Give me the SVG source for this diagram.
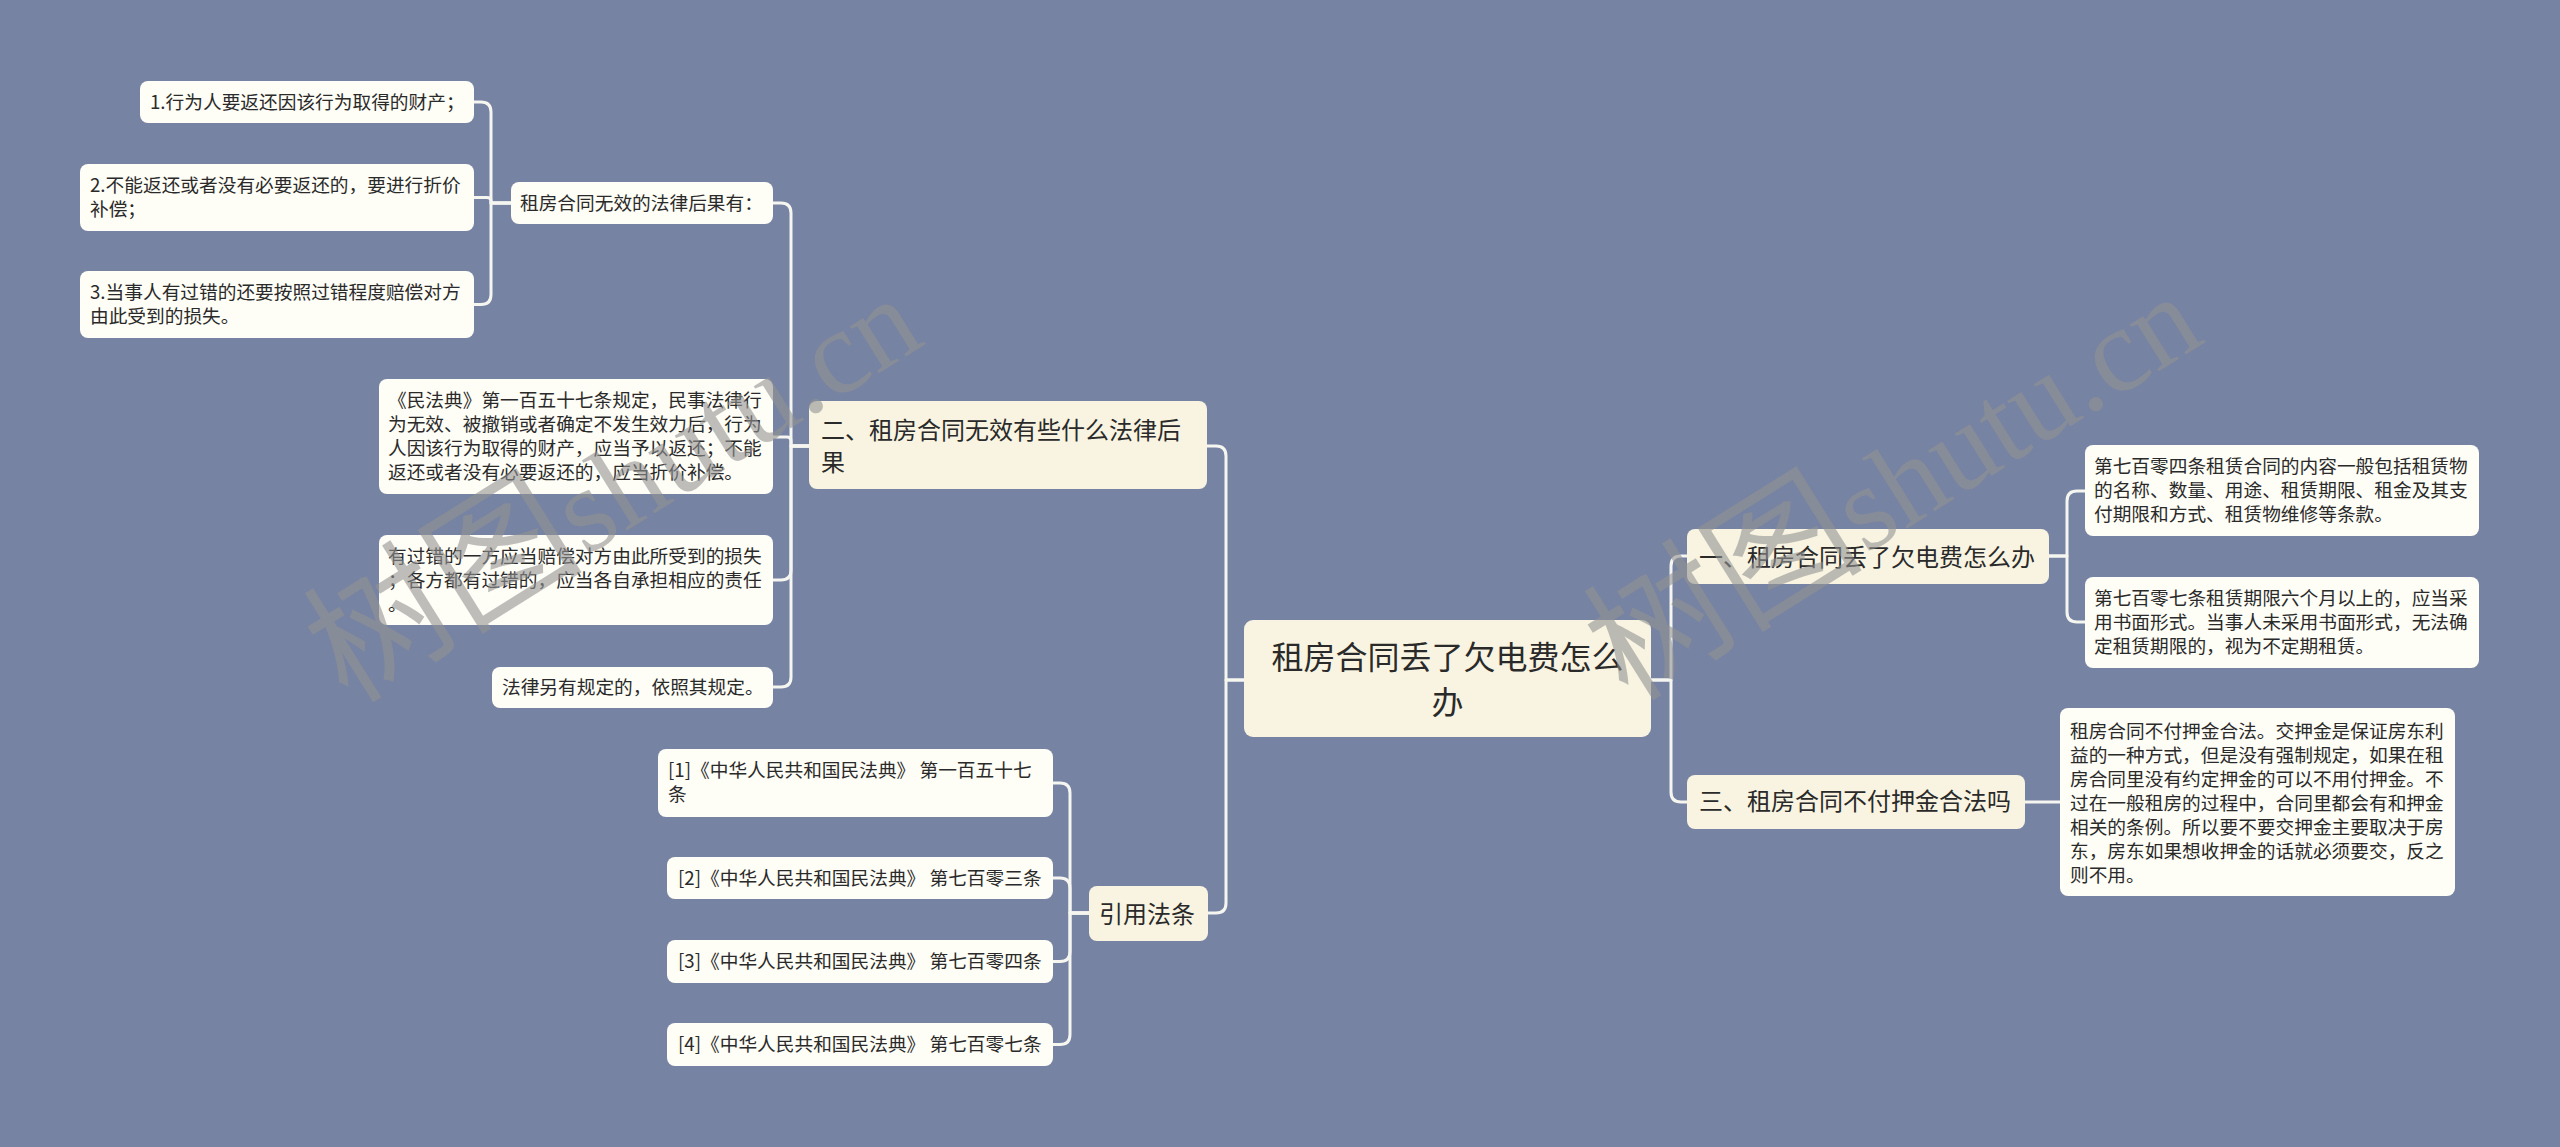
<svg xmlns="http://www.w3.org/2000/svg" width="2560" height="1147" viewBox="0 0 2560 1147">
<style>
.leaf{fill:#fefdf6;}
.branch{fill:#f8f4e1;}
.t{font-family:"Noto Sans CJK SC","Liberation Sans",sans-serif;fill:#2a2a2a;}
.s{font-size:18.7px;}
.m{font-size:24px;}
.l{font-size:32px;}
.conn path{fill:none;stroke:#f6f6f1;stroke-width:3;stroke-linecap:round;stroke-linejoin:round;}
.wm{font-family:"Liberation Serif","Noto Sans CJK SC",serif;font-size:120px;fill:#939393;fill-opacity:0.6;}
.wmc{font-size:140px;}
</style>
<rect width="2560" height="1147" fill="#7783a3"/>
<g class="conn">
<path d="M1244 680 H1226 V456 Q1226 446 1216 446 H1207"/>
<path d="M1244 680 H1226 V903 Q1226 913 1216 913 H1208"/>
<path d="M1651 680 H1671 V566 Q1671 556 1681 556 H1687"/>
<path d="M1651 680 H1671 V792 Q1671 802 1681 802 H1687"/>
<path d="M2049 556 H2067 V501 Q2067 491 2077 491 H2085"/>
<path d="M2049 556 H2067 V612 Q2067 622 2077 622 H2085"/>
<path d="M2025 802 H2060"/>
<path d="M809 446 H791 V213 Q791 203 781 203 H773"/>
<path d="M809 446 H791 V441 Q791 437 787 437 H773"/>
<path d="M809 446 H791 V570 Q791 580 781 580 H773"/>
<path d="M809 446 H791 V677 Q791 687 781 687 H773"/>
<path d="M511 203 H491 V112 Q491 102 481 102 H474"/>
<path d="M511 203 H491 V201 Q491 197.5 487 197.5 H474"/>
<path d="M511 203 H491 V294.5 Q491 304.5 481 304.5 H474"/>
<path d="M1089 913 H1070 V793 Q1070 783 1060 783 H1053"/>
<path d="M1089 913 H1070 V888 Q1070 878 1060 878 H1053"/>
<path d="M1089 913 H1070 V951.5 Q1070 961.5 1060 961.5 H1053"/>
<path d="M1089 913 H1070 V1034.5 Q1070 1044.5 1060 1044.5 H1053"/>
</g>
<g id="root">
<rect class="branch" x="1244" y="620" width="407" height="117" rx="9"/>
<text class="t l" x="1447.5" y="669" text-anchor="middle">租房合同丢了欠电费怎么</text>
<text class="t l" x="1447.5" y="714" text-anchor="middle">办</text>
</g>
<g id="n1">
<rect class="branch" x="1687" y="529" width="362" height="55" rx="8"/>
<text class="t m" x="1699" y="566">一、租房合同丢了欠电费怎么办</text>
</g>
<g id="n1a">
<rect class="leaf" x="2085" y="445" width="394" height="91" rx="8"/>
<text class="t s" x="2094" y="472.5">第七百零四条租赁合同的内容一般包括租赁物</text>
<text class="t s" x="2094" y="496.5">的名称、数量、用途、租赁期限、租金及其支</text>
<text class="t s" x="2094" y="520.5">付期限和方式、租赁物维修等条款。</text>
</g>
<g id="n1b">
<rect class="leaf" x="2085" y="577" width="394" height="91" rx="8"/>
<text class="t s" x="2094" y="604.5">第七百零七条租赁期限六个月以上的，应当采</text>
<text class="t s" x="2094" y="628.5">用书面形式。当事人未采用书面形式，无法确</text>
<text class="t s" x="2094" y="652.5">定租赁期限的，视为不定期租赁。</text>
</g>
<g id="n3">
<rect class="branch" x="1687" y="775" width="338" height="54" rx="8"/>
<text class="t m" x="1699" y="810">三、租房合同不付押金合法吗</text>
</g>
<g id="n3a">
<rect class="leaf" x="2060" y="708" width="395" height="188" rx="8"/>
<text class="t s" x="2070" y="737.5">租房合同不付押金合法。交押金是保证房东利</text>
<text class="t s" x="2070" y="761.5">益的一种方式，但是没有强制规定，如果在租</text>
<text class="t s" x="2070" y="785.5">房合同里没有约定押金的可以不用付押金。不</text>
<text class="t s" x="2070" y="809.5">过在一般租房的过程中，合同里都会有和押金</text>
<text class="t s" x="2070" y="833.5">相关的条例。所以要不要交押金主要取决于房</text>
<text class="t s" x="2070" y="857.5">东，房东如果想收押金的话就必须要交，反之</text>
<text class="t s" x="2070" y="881.5">则不用。</text>
</g>
<g id="n2">
<rect class="branch" x="809" y="401" width="398" height="88" rx="8"/>
<text class="t m" x="821" y="439">二、租房合同无效有些什么法律后</text>
<text class="t m" x="821" y="471">果</text>
</g>
<g id="n2a">
<rect class="leaf" x="511" y="182" width="262" height="42" rx="8"/>
<text class="t s" x="520" y="209.5">租房合同无效的法律后果有：</text>
</g>
<g id="n2a1">
<rect class="leaf" x="140" y="81" width="334" height="42" rx="8"/>
<text class="t s" x="150" y="108.5">1.行为人要返还因该行为取得的财产；</text>
</g>
<g id="n2a2">
<rect class="leaf" x="80" y="164" width="394" height="67" rx="8"/>
<text class="t s" x="90" y="191.5">2.不能返还或者没有必要返还的，要进行折价</text>
<text class="t s" x="90" y="215.5">补偿；</text>
</g>
<g id="n2a3">
<rect class="leaf" x="80" y="271" width="394" height="67" rx="8"/>
<text class="t s" x="90" y="298.5">3.当事人有过错的还要按照过错程度赔偿对方</text>
<text class="t s" x="90" y="322.5">由此受到的损失。</text>
</g>
<g id="n2b">
<rect class="leaf" x="379" y="379" width="394" height="115" rx="8"/>
<text class="t s" x="388" y="406.5">《民法典》第一百五十七条规定，民事法律行</text>
<text class="t s" x="388" y="430.5">为无效、被撤销或者确定不发生效力后，行为</text>
<text class="t s" x="388" y="454.5">人因该行为取得的财产，应当予以返还；不能</text>
<text class="t s" x="388" y="478.5">返还或者没有必要返还的，应当折价补偿。</text>
</g>
<g id="n2c">
<rect class="leaf" x="379" y="535" width="394" height="90" rx="8"/>
<text class="t s" x="388" y="562.5">有过错的一方应当赔偿对方由此所受到的损失</text>
<text class="t s" x="388" y="586.5">；各方都有过错的，应当各自承担相应的责任</text>
<text class="t s" x="388" y="610.5">。</text>
</g>
<g id="n2d">
<rect class="leaf" x="492" y="667" width="281" height="41" rx="8"/>
<text class="t s" x="502" y="694">法律另有规定的，依照其规定。</text>
</g>
<g id="n4">
<rect class="branch" x="1089" y="886" width="119" height="55" rx="8"/>
<text class="t m" x="1099" y="923">引用法条</text>
</g>
<g id="n4a">
<rect class="leaf" x="658" y="749" width="395" height="68" rx="8"/>
<text class="t s" x="668" y="776.5">[1]《中华人民共和国民法典》 第一百五十七</text>
<text class="t s" x="668" y="800.5">条</text>
</g>
<g id="n4b">
<rect class="leaf" x="667" y="857" width="386" height="42" rx="8"/>
<text class="t s" x="678" y="884.5">[2]《中华人民共和国民法典》 第七百零三条</text>
</g>
<g id="n4c">
<rect class="leaf" x="667" y="940" width="386" height="43" rx="8"/>
<text class="t s" x="678" y="967.5">[3]《中华人民共和国民法典》 第七百零四条</text>
</g>
<g id="n4d">
<rect class="leaf" x="667" y="1023" width="386" height="43" rx="8"/>
<text class="t s" x="678" y="1050.5">[4]《中华人民共和国民法典》 第七百零七条</text>
</g>
<g id="watermark">
<text class="wm" x="348" y="705" transform="rotate(-32 348 705)"><tspan class="wmc">树图</tspan>shutu.cn</text>
<text class="wm" x="1628" y="703" transform="rotate(-32 1628 703)"><tspan class="wmc">树图</tspan>shutu.cn</text>
</g>
</svg>
